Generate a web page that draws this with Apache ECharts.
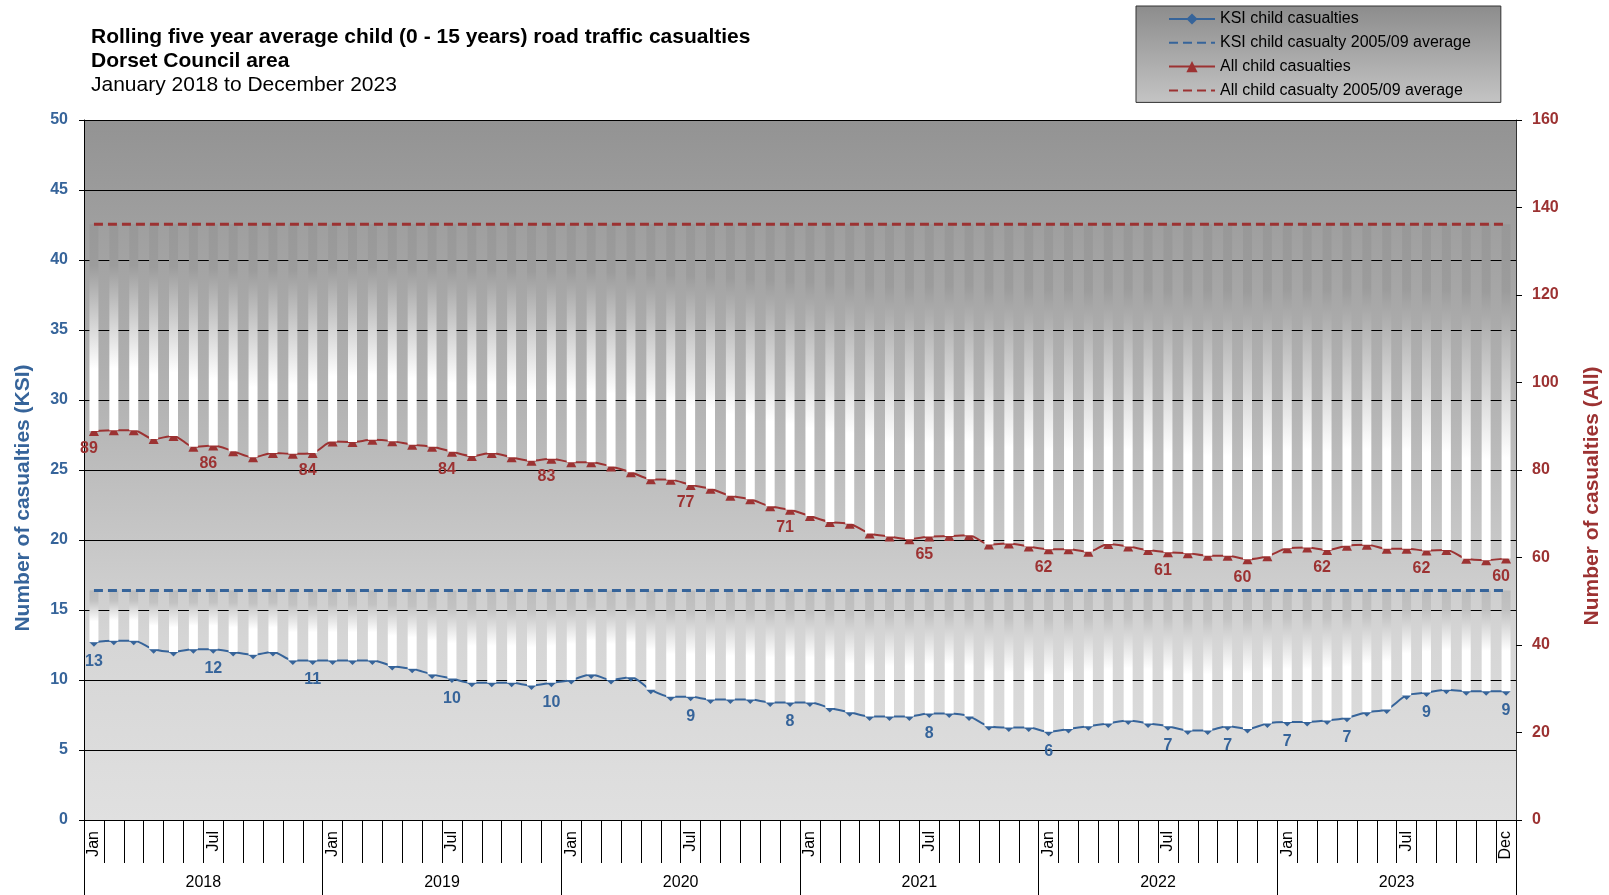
<!DOCTYPE html>
<html>
<head>
<meta charset="utf-8">
<title>Rolling five year average child road traffic casualties</title>
<script src="https://cdn.jsdelivr.net/npm/echarts@6/dist/echarts.min.js"></script>
<style>
  html, body { margin: 0; padding: 0; background: #fff; }
  #chart { width: 1609px; height: 895px; }
</style>
</head>
<body>
<div id="chart"></div>
<script>
// months Jan 2018 .. Dec 2023
var monthNames = ['Jan', 'Feb', 'Mar', 'Apr', 'May', 'Jun', 'Jul', 'Aug', 'Sep', 'Oct', 'Nov', 'Dec'];
var years = ['2018', '2019', '2020', '2021', '2022', '2023'];
var monthTickLabels = ['Jan', 'Jul'];

// rolling five year average, killed or seriously injured (left axis)
var ksiValues = [
  12.7, 12.8, 12.8, 12.2, 12.0, 12.2, 12.2, 12.0, 11.8, 12.0, 11.4, 11.4,
  11.4, 11.4, 11.4, 11.0, 10.8, 10.4, 10.1, 9.8, 9.8, 9.8, 9.6, 9.8,
  10.0, 10.4, 10.0, 10.2, 9.3, 8.8, 8.8, 8.6, 8.6, 8.6, 8.4, 8.4,
  8.4, 8.0, 7.7, 7.4, 7.4, 7.4, 7.6, 7.6, 7.4, 6.7, 6.6, 6.6,
  6.3, 6.5, 6.7, 6.9, 7.1, 6.9, 6.7, 6.4, 6.4, 6.7, 6.5, 6.9,
  7.0, 7.0, 7.1, 7.3, 7.7, 7.9, 8.9, 9.1, 9.3, 9.2, 9.2, 9.2
];
// rolling five year average, all child casualties (right axis)
var allValues = [
  88.9, 89.1, 89.1, 87.1, 87.8, 85.3, 85.6, 84.3, 82.9, 83.9, 83.7, 83.9,
  86.5, 86.4, 86.9, 86.6, 85.8, 85.3, 84.2, 83.2, 83.9, 82.9, 82.1, 82.6,
  81.8, 81.8, 80.8, 79.5, 77.9, 77.8, 76.6, 75.7, 74.1, 73.3, 71.7, 70.9,
  69.5, 68.1, 67.7, 65.5, 64.8, 64.2, 64.8, 64.9, 65.1, 63.0, 63.2, 62.5,
  61.9, 61.9, 61.3, 63.1, 62.5, 61.7, 61.2, 61.0, 60.4, 60.4, 59.6, 60.3,
  62.1, 62.3, 61.7, 62.7, 62.9, 62.0, 62.0, 61.6, 61.7, 59.7, 59.4, 59.8
];
var ksiBaseline = 16.4;   // 2005/09 average
var allBaseline = 136.2;  // 2005/09 average

// months that carry a value label
var ksiLabelMonths = [0, 6, 11, 18, 23, 30, 35, 42, 48, 54, 57, 60, 63, 67, 71];
var allLabelMonths = [0, 6, 11, 18, 23, 30, 35, 42, 48, 54, 58, 62, 67, 71];

var blue = '#36649a';
var red = '#9c3232';
var font = '"Liberation Sans", Arial, sans-serif';

var categories = [];
years.forEach(function (y) {
  monthNames.forEach(function (m) { categories.push(m + ' ' + y); });
});

function withLabels(values, idx) {
  return values.map(function (v, i) {
    return idx.indexOf(i) >= 0 ? { value: v, label: { show: true } } : v;
  });
}

var ksiBaseLine = categories.map(function () { return ksiBaseline; });
var allBaseLine = categories.map(function () { return allBaseline; });
var ksiGap = ksiValues.map(function (v) { return +(ksiBaseline - v).toFixed(2); });
var allGap = allValues.map(function (v) { return +(allBaseline - v).toFixed(2); });

var myChart = echarts.init(document.getElementById('chart'));

// dashed average lines: no marker in the legend
var noSymbol = { color: 'rgba(0,0,0,0)', borderWidth: 0, opacity: 0 };

var option = {
  animation: false,
  textStyle: { fontFamily: font },
  title: [{
    text: 'Rolling five year average child (0 - 15 years) road traffic casualties\nDorset Council area',
    left: 91, top: 25, padding: 0,
    textStyle: { fontFamily: font, fontSize: 21, fontWeight: 'bold', color: '#000', lineHeight: 24 }
  }, {
    text: 'January 2018 to December 2023',
    left: 91, top: 73, padding: 0,
    textStyle: { fontFamily: font, fontSize: 21, fontWeight: 'normal', color: '#000', lineHeight: 24 }
  }],
  legend: {
    left: 1136, top: 6,
    orient: 'vertical',
    padding: [5, 30, 4, 32],
    itemWidth: 46, itemHeight: 14, itemGap: 7.8,
    selectedMode: false,
    backgroundColor: new echarts.graphic.LinearGradient(0, 0, 0, 1, [
      { offset: 0, color: '#8c8c8c' }, { offset: 1, color: '#c4c4c4' }
    ]),
    borderColor: '#333', borderWidth: 1,
    textStyle: { fontFamily: font, fontSize: 16, color: '#000' },
    data: [
      'KSI child casualties',
      { name: 'KSI child casualty 2005/09 average', itemStyle: noSymbol },
      'All child casualties',
      { name: 'All child casualty 2005/09 average', itemStyle: noSymbol }
    ]
  },
  graphic: [{
    type: 'text', x: 23, y: 498, rotation: Math.PI / 2,
    style: { text: 'Number of casualties (KSI)', font: 'bold 21px ' + font, fill: blue, align: 'center', verticalAlign: 'middle' }
  }, {
    type: 'text', x: 1592, y: 496, rotation: Math.PI / 2,
    style: { text: 'Number of casualties (All)', font: 'bold 21px ' + font, fill: red, align: 'center', verticalAlign: 'middle' }
  }],
  grid: {
    left: 84, right: 93, top: 120, bottom: 75,
    show: true, borderWidth: 0,
    backgroundColor: new echarts.graphic.LinearGradient(0, 0, 0, 1, [
      { offset: 0, color: '#939393' }, { offset: 0.4, color: '#b3b3b3' },
      { offset: 0.75, color: '#d6d6d6' }, { offset: 1, color: '#e0e0e0' }
    ])
  },
  xAxis: [{
    type: 'category', data: categories, position: 'bottom',
    axisLine: { show: true, lineStyle: { color: '#000', width: 1 } },
    axisTick: { show: true, interval: 0, length: 43, lineStyle: { color: '#000', width: 1 } },
    axisLabel: {
      interval: 0, rotate: 90, margin: 11, fontSize: 16, color: '#000', fontFamily: font,
      formatter: function (v, i) {
        var m = v.split(' ')[0];
        if (i === categories.length - 1) return m;
        return monthTickLabels.indexOf(m) >= 0 ? m : '';
      }
    },
    splitLine: { show: false }
  }, {
    type: 'category', data: years, position: 'bottom', offset: 0,
    axisLine: { show: false },
    axisTick: { show: true, interval: 0, length: 75, lineStyle: { color: '#000', width: 1 } },
    axisLabel: { margin: 55, fontSize: 16, color: '#000', fontFamily: font },
    splitLine: { show: false }
  }],
  yAxis: [{
    type: 'value', min: 0, max: 50, interval: 5, position: 'left',
    axisLine: { show: true, lineStyle: { color: '#000', width: 1 } },
    axisTick: { show: true, length: 5, lineStyle: { color: '#000' } },
    axisLabel: { margin: 16, fontSize: 16, fontWeight: 'bold', color: blue, fontFamily: font },
    splitLine: { show: true, lineStyle: { color: '#000', width: 1 } }
  }, {
    type: 'value', min: 0, max: 160, interval: 20, position: 'right',
    axisLine: { show: true, lineStyle: { color: '#333', width: 1 } },
    axisTick: { show: true, length: 6, lineStyle: { color: '#000' } },
    axisLabel: { margin: 16, fontSize: 16, fontWeight: 'bold', color: red, fontFamily: font },
    splitLine: { show: false }
  }],
  series: [{
    name: 'KSI child casualties', type: 'line', yAxisIndex: 0, z: 2,
    data: withLabels(ksiValues, ksiLabelMonths),
    smooth: 0.3, symbol: 'diamond', symbolSize: 9,
    lineStyle: { color: blue, width: 2 }, itemStyle: { color: blue },
    label: {
      show: false, position: 'bottom', distance: 7, color: blue,
      fontSize: 16, fontWeight: 'bold', fontFamily: font,
      formatter: function (p) { return Math.round(p.value); }
    }
  }, {
    name: 'KSI child casualty 2005/09 average', type: 'line', yAxisIndex: 0, z: 4,
    data: ksiBaseLine, symbol: 'none',
    lineStyle: { color: blue, width: 3, type: [9, 5] }, itemStyle: { color: blue }
  }, {
    name: 'All child casualties', type: 'line', yAxisIndex: 1, z: 2,
    data: withLabels(allValues, allLabelMonths),
    smooth: 0.3, symbol: 'triangle', symbolSize: 10,
    lineStyle: { color: red, width: 2 }, itemStyle: { color: red },
    label: {
      show: false, position: 'bottom', distance: 5, offset: [-5, 0], color: red,
      fontSize: 16, fontWeight: 'bold', fontFamily: font,
      formatter: function (p) { return Math.round(p.value); }
    }
  }, {
    name: 'All child casualty 2005/09 average', type: 'line', yAxisIndex: 1, z: 4,
    data: allBaseLine, symbol: 'none',
    lineStyle: { color: red, width: 3, type: [9, 5] }, itemStyle: { color: red }
  }, {
    name: 'ksi base', type: 'bar', yAxisIndex: 0, stack: 'ksi', z: 3, silent: true,
    barWidth: 9, barGap: '-100%',
    data: ksiValues, itemStyle: { color: 'rgba(0,0,0,0)' }
  }, {
    name: 'ksi gap', type: 'bar', yAxisIndex: 0, stack: 'ksi', z: 3, silent: true,
    barWidth: 9, barGap: '-100%',
    data: ksiGap,
    itemStyle: {
      color: new echarts.graphic.LinearGradient(0, 0, 0, 1, [
        { offset: 0, color: '#bcbcbc' }, { offset: 0.2, color: '#c2c2c2' },
        { offset: 0.6, color: '#ffffff' }, { offset: 1, color: '#ffffff' }
      ])
    }
  }, {
    name: 'all base', type: 'bar', yAxisIndex: 1, stack: 'all', z: 3, silent: true,
    barWidth: 9, barGap: '-100%',
    data: allValues, itemStyle: { color: 'rgba(0,0,0,0)' }
  }, {
    name: 'all gap', type: 'bar', yAxisIndex: 1, stack: 'all', z: 3, silent: true,
    barWidth: 9, barGap: '-100%',
    data: allGap,
    itemStyle: {
      color: new echarts.graphic.LinearGradient(0, 0, 0, 1, [
        { offset: 0, color: '#989898' }, { offset: 0.2, color: '#9c9c9c' },
        { offset: 0.7, color: '#ffffff' }, { offset: 1, color: '#ffffff' }
      ])
    }
  }]
};

myChart.setOption(option);
</script>
</body>
</html>
